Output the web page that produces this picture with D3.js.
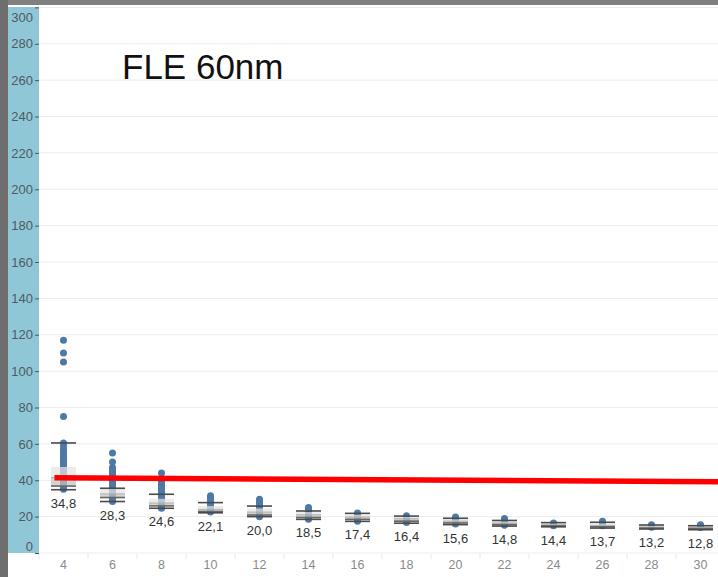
<!DOCTYPE html>
<html><head><meta charset="utf-8">
<script src="https://cdn.jsdelivr.net/npm/d3@7"></script>
<style>html,body{margin:0;padding:0;background:#fff;}svg{display:block;}</style>
</head><body>
<svg id="chart" width="718" height="577"></svg>
<script>
const categories = [4,6,8,10,12,14,16,18,20,22,24,26,28,30];
const whiskerHigh = [60.5,35.6,32.3,27.7,25.8,23.1,21.8,20.3,19.1,17.9,16.7,16.9,15.4,15.0];
const q3Values    = [47.3,35.2,29.8,25.8,24.5,22.5,21.0,19.8,18.5,17.4,16.2,16.2,15.0,14.6];
const medians     = [41.5,32.5,27.5,24.0,22.5,21.0,19.8,18.8,17.5,16.5,15.5,15.2,14.3,14.0];
const q1Values    = [36.8,30.5,25.9,22.8,20.9,19.5,18.5,17.5,16.5,15.6,14.9,14.4,13.7,13.4];
const whiskerLow  = [34.8,28.3,24.6,22.1,20.0,18.5,17.4,16.4,15.6,14.8,14.4,13.7,13.2,12.8];
const pointValues = [
  [117,110,105,75,60.5,59,57,56,55,54,53,52,51,50,49,48,47,46,45,44,43,42,41,40,39,38,37,36,35],
  [55,50,47,46,45,44,43,42,41,40,39,38,37,36,35,34,33,32,31,30,29,28.3],
  [44,41,39,38,37,36,35,34,33,32,31,30,29,28,27,26,25,24.6],
  [31.5,30.5,29.5,28.5,27.5,26.5,25.5,24.5,23.5,22.5],
  [29.5,28.5,27.5,26.5,25.5,24.5,23.5,22.5,21.5,20.5,20],
  [25,24,23,22,21,20,19,18.5],
  [22,21,20,19,18,17.4],
  [20.5,19.5,18.5,17.5,16.8],
  [19.8,19,18,17,16],
  [19,18,17,16,15.2],
  [16.5,15.8,15],
  [17.5,16.5,15.8,15],
  [15.5,14.8,14.2],
  [15.5,14.8,14]
];
const yTicks = [0,20,40,60,80,100,120,140,160,180,200,220,240,260,280,300];
const trendX = [3.63, 31];
const trendY = [41.4, 39.2];
const title = "FLE 60nm";

const W = 718, H = 577;
const svg = d3.select("#chart");
const plotLeft = 39, plotTop = 7.4, plotBottom = 553;

const x = d3.scaleBand().domain(categories).range([plotLeft, plotLeft + 49*categories.length]).padding(0);
const xNum = d3.scaleLinear().domain([4, 30]).range([x(4) + x.bandwidth()/2, x(30) + x.bandwidth()/2]);
const y = d3.scaleLinear().domain([0, 300]).range([plotBottom, plotTop]);

// frame
svg.append("rect").attr("x",0).attr("y",0).attr("width",W).attr("height",H).attr("fill","#fff");
svg.append("rect").attr("x",0).attr("y",0).attr("width",W).attr("height",5).attr("fill","#808080");
svg.append("rect").attr("x",0).attr("y",0).attr("width",8).attr("height",H).attr("fill","#6e6e6e");
// axis band
svg.append("rect").attr("x",8).attr("y",7).attr("width",plotLeft-8).attr("height",plotBottom-7).attr("fill","#8fc7d6");

// gridlines
svg.append("g").selectAll("line").data(yTicks).join("line")
  .attr("x1",plotLeft).attr("x2",W).attr("y1",d=>y(d)).attr("y2",d=>y(d))
  .attr("stroke","#ececec").attr("stroke-width",1);

// y axis
const yAxis = d3.axisLeft(y).tickValues(yTicks).tickSize(4).tickPadding(2);
const gy = svg.append("g").attr("transform",`translate(${plotLeft},0)`).call(yAxis);
gy.select(".domain").remove();
gy.selectAll(".tick line").attr("stroke","#555");
gy.selectAll(".tick text").attr("fill","#4f5a63").attr("font-family","Liberation Sans, Arial, sans-serif").attr("font-size","13px")
  .attr("dy", d => d===0 ? "-0.2em" : (d===300 ? "1.05em" : "0.32em"));

// x axis
const xAxis = d3.axisBottom(x).tickSize(0).tickPadding(7);
const gx = svg.append("g").attr("transform",`translate(0,${plotBottom})`).call(xAxis);
gx.select(".domain").remove();
gx.selectAll(".tick text").attr("fill","#8a8a8a").attr("font-family","Liberation Sans, Arial, sans-serif").attr("font-size","12.5px");
svg.append("g").selectAll("line").data(categories).join("line")
  .attr("x1",d=>x(d)).attr("x2",d=>x(d)).attr("y1",plotBottom+1).attr("y2",plotBottom+6)
  .attr("stroke","#e6e6e6");

// points
const pts = [];
categories.forEach((c,i)=>pointValues[i].forEach(v=>pts.push({c,v})));
svg.append("g").selectAll("circle").data(pts).join("circle")
  .attr("cx",d=>x(d.c)+x.bandwidth()/2).attr("cy",d=>y(d.v)).attr("r",3.5)
  .attr("fill","#4e79a7");

// boxes
const bw = 25;
const boxes = categories.map((c,i)=>({c,hi:whiskerHigh[i],q3:q3Values[i],med:medians[i],q1:q1Values[i],lo:whiskerLow[i]}));
const gb = svg.append("g");
gb.selectAll("rect.up").data(boxes).join("rect").attr("class","up")
  .attr("x",d=>x(d.c)+x.bandwidth()/2-bw/2).attr("width",bw)
  .attr("y",d=>y(d.q3)).attr("height",d=>y(d.med)-y(d.q3))
  .attr("fill","#e4e4e4").attr("fill-opacity",0.72);
gb.selectAll("rect.dn").data(boxes).join("rect").attr("class","dn")
  .attr("x",d=>x(d.c)+x.bandwidth()/2-bw/2).attr("width",bw)
  .attr("y",d=>y(d.med)).attr("height",d=>y(d.q1)-y(d.med))
  .attr("fill","#c4c4c4").attr("fill-opacity",0.72);
gb.selectAll("line.med").data(boxes).join("line").attr("class","med")
  .attr("x1",d=>x(d.c)+x.bandwidth()/2-bw/2).attr("x2",d=>x(d.c)+x.bandwidth()/2+bw/2)
  .attr("y1",d=>y(d.med)).attr("y2",d=>y(d.med)).attr("stroke","#b0b0b0").attr("stroke-width",1);
["hi","q1","lo"].forEach(k=>{
  gb.selectAll("line.c"+k).data(boxes).join("line").attr("class","c"+k)
    .attr("x1",d=>x(d.c)+x.bandwidth()/2-bw/2).attr("x2",d=>x(d.c)+x.bandwidth()/2+bw/2)
    .attr("y1",d=>y(d[k])).attr("y2",d=>y(d[k])).attr("stroke", k==="q1" ? "#666" : "#4a4a4a").attr("stroke-width",1.6);
});

// labels
svg.append("g").selectAll("text").data(boxes).join("text")
  .attr("x",d=>x(d.c)+x.bandwidth()/2).attr("y",d=>y(d.lo)+18)
  .attr("text-anchor","middle").attr("font-family","Liberation Sans, Arial, sans-serif").attr("font-size","13px")
  .attr("fill","#333").text(d=>d.lo.toFixed(1).replace(".",","));

// trend line
svg.append("path").datum(trendX.map((t,i)=>[t,trendY[i]]))
  .attr("d", d3.line().x(d=>xNum(d[0])).y(d=>y(d[1])))
  .attr("stroke","#ff0000").attr("stroke-width",5.5).attr("fill","none");

// title
svg.append("text").attr("x",122).attr("y",79).attr("font-family","Liberation Sans, Arial, sans-serif")
  .attr("font-size","35px").attr("fill","#111").text(title);
</script>
</body></html>
